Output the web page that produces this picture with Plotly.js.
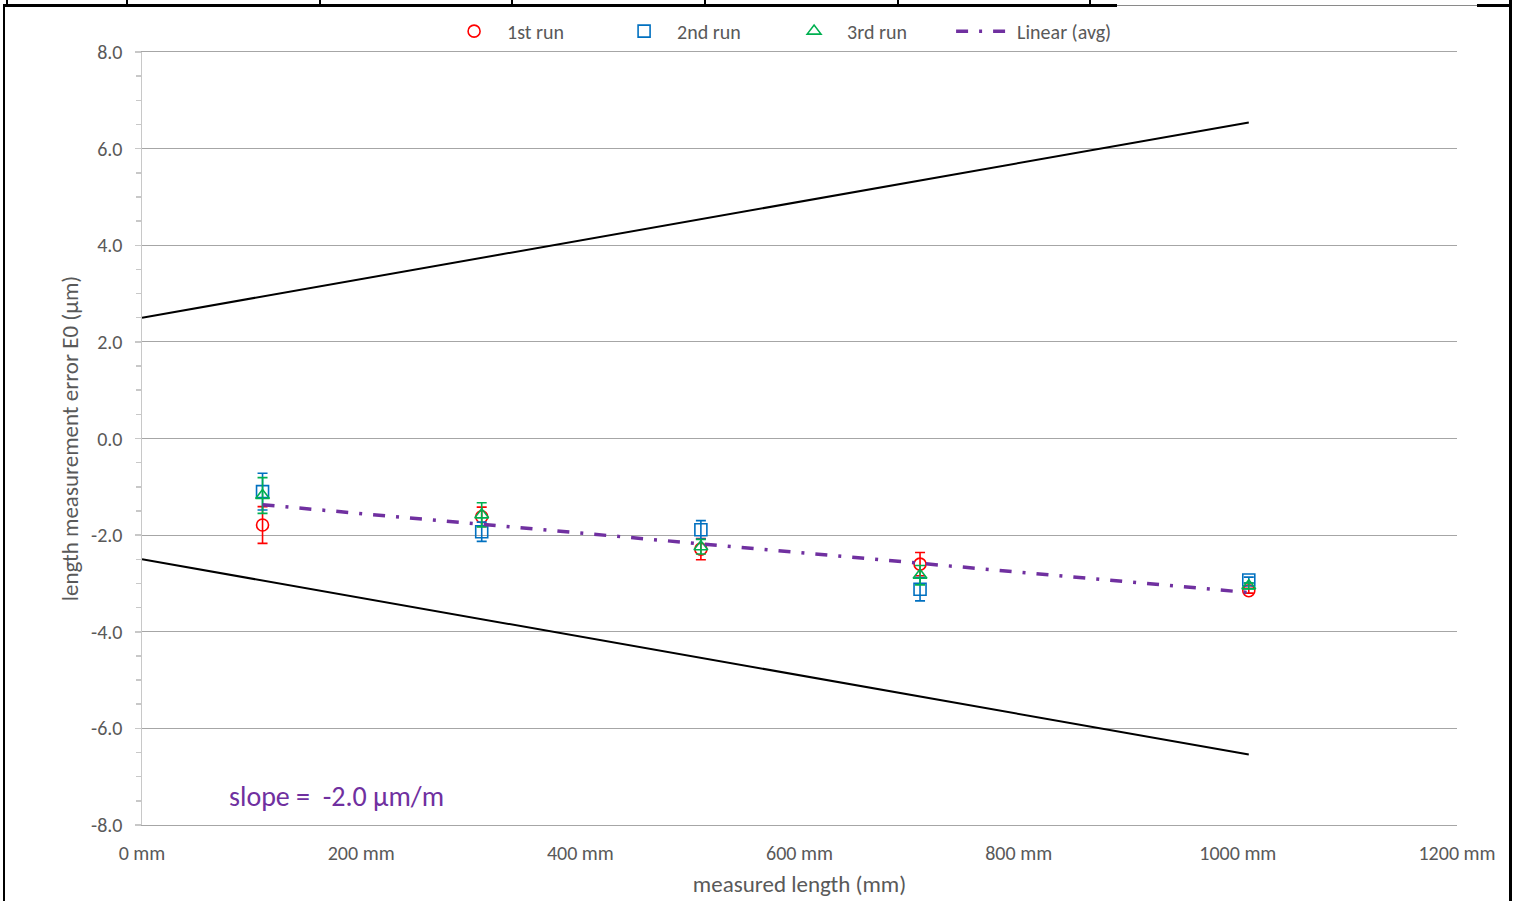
<!DOCTYPE html>
<html>
<head>
<meta charset="utf-8">
<script src="https://cdn.plot.ly/plotly-3.0.1.min.js"></script>
<style>
  html, body { margin:0; padding:0; background:#fff; }
  #chart { width:1519px; height:901px; position:absolute; left:0; top:0; }
  .ln { position:absolute; background:#000; }
</style>
</head>
<body>
<div id="chart"></div>
<script>
// ---- data ----
const lengthsMm = [110, 310, 510, 710, 1010];

const run1 = [-1.79, -1.62, -2.29, -2.60, -3.15];
const run1Err = [0.38, 0.20, 0.22, 0.24, 0.05];

const run2 = [-1.10, -1.93, -1.89, -3.12, -2.93];
const run2Err = [0.38, 0.20, 0.19, 0.24, 0.06];

const run3 = [-1.18, -1.58, -2.24, -2.83, -3.05];
const run3Err = [0.37, 0.25, 0.15, 0.20, 0.06];

// MPE limit lines (end points)
const mpeX = [0, 1010];
const mpeUpper = [2.5, 6.54];
const mpeLower = [-2.5, -6.54];

const yTickVals = [-8, -6, -4, -2, 0, 2, 4, 6, 8];
const yTickText = ['-8.0', '-6.0', '-4.0', '-2.0', '0.0', '2.0', '4.0', '6.0', '8.0'];
const xTickVals = [0, 200, 400, 600, 800, 1000, 1200];
const xTickText = ['0 mm', '200 mm', '400 mm', '600 mm', '800 mm', '1000 mm', '1200 mm'];

const seriesNames = ['1st run', '2nd run', '3rd run', 'Linear (avg)'];
const slopeLabel = 'slope =  -2.0 µm/m';

// ---- linear trend of the run averages (least squares) ----
const avg = lengthsMm.map((_, i) => (run1[i] + run2[i] + run3[i]) / 3);
const n = lengthsMm.length;
const mx = lengthsMm.reduce((a, b) => a + b, 0) / n;
const my = avg.reduce((a, b) => a + b, 0) / n;
let sxy = 0, sxx = 0;
for (let i = 0; i < n; i++) { sxy += (lengthsMm[i] - mx) * (avg[i] - my); sxx += (lengthsMm[i] - mx) ** 2; }
const k = sxy / sxx;
const trendX = [lengthsMm[0], lengthsMm[n - 1]];
const trendY = trendX.map(x => my + k * (x - mx));

const FONT = 'Carlito, Lato, "Liberation Sans", sans-serif';
const GRAY = '#595959';

function runTrace(name, y, err, color, symbol) {
  return {
    type: 'scatter', mode: 'markers', name: name,
    x: lengthsMm, y: y,
    marker: { symbol: symbol, size: 12, color: color, line: { color: color, width: 1.6 } },
    error_y: { type: 'data', array: err, visible: true, color: color, thickness: 1.6, width: 5 }
  };
}

const traces = [
  { type: 'scatter', mode: 'lines', x: mpeX, y: mpeUpper, showlegend: false, hoverinfo: 'skip',
    line: { color: '#000', width: 2 } },
  { type: 'scatter', mode: 'lines', x: mpeX, y: mpeLower, showlegend: false, hoverinfo: 'skip',
    line: { color: '#000', width: 2 } },
  runTrace(seriesNames[0], run1, run1Err, '#FF0000', 'circle-open'),
  runTrace(seriesNames[1], run2, run2Err, '#0070C0', 'square-open'),
  runTrace(seriesNames[2], run3, run3Err, '#00B050', 'triangle-up-open'),
  { type: 'scatter', mode: 'lines', name: seriesNames[3], x: trendX, y: trendY,
    line: { color: '#7030A0', width: 3.5, dash: '12px,11px,3px,11px' } }
];

const layout = {
  width: 1519, height: 901,
  margin: { l: 142, r: 62, t: 52, b: 76 },
  paper_bgcolor: 'rgba(0,0,0,0)', plot_bgcolor: '#fff',
  font: { family: FONT, color: GRAY, size: 20 },
  showlegend: true,
  legend: {
    orientation: 'h', x: 0.486, xanchor: 'center', y: 1.027, yanchor: 'middle',
    font: { family: FONT, size: 20, color: GRAY }, itemwidth: 56, entrywidth: 99, tracegroupgap: 0,
    bgcolor: 'rgba(0,0,0,0)'
  },
  xaxis: {
    range: [0, 1200], tickvals: xTickVals, ticktext: xTickText,
    showgrid: false, zeroline: false, ticks: '',
    showline: true, mirror: true, linecolor: '#A6A6A6', linewidth: 1,
    tickfont: { family: FONT, size: 20, color: GRAY }, ticklabelstandoff: 10,
    title: { text: 'measured length (mm)', font: { family: FONT, size: 23, color: GRAY }, standoff: 11 }
  },
  yaxis: {
    range: [-8, 8], tickvals: yTickVals, ticktext: yTickText,
    showgrid: true, gridcolor: '#A6A6A6', gridwidth: 1, zeroline: false,
    showline: true, linecolor: '#C8C8C8', linewidth: 1.5,
    ticks: 'outside', ticklen: 6, tickcolor: '#C8C8C8', tickwidth: 1.5,
    minor: { dtick: 0.5, ticks: 'outside', ticklen: 5, tickcolor: '#C8C8C8', tickwidth: 1.5, showgrid: false },
    tickfont: { family: FONT, size: 20, color: GRAY }, ticklabelstandoff: 8,
    title: { text: 'length measurement error E0 (µm)', font: { family: FONT, size: 23, color: GRAY }, standoff: 6 }
  },
  annotations: [
    { x: 78, y: -7.4, xref: 'x', yref: 'y', xanchor: 'left', yanchor: 'middle', showarrow: false,
      text: slopeLabel, font: { family: FONT, size: 28, color: '#7030A0' } }
  ]
};

Plotly.newPlot('chart', traces, layout, { displayModeBar: false, staticPlot: true });

// ---- surrounding frame (decorative borders of the page) ----
const frame = [
  [3, 5, 2, 896],       // left border
  [1509, 0, 3, 901],    // right border
  [3, 4, 1114, 3],      // top thick line (left part)
  [1117, 5, 360, 1],    // top thin line
  [1477, 4, 35, 3],     // top thick line (right part)
  [6, 0, 2, 5], [126, 0, 2, 5], [319, 0, 2, 5], [511, 0, 2, 5],
  [704, 0, 2, 5], [897, 0, 2, 5], [1089, 0, 2, 5]
];
frame.forEach(([l, t, w, h], i) => {
  const d = document.createElement('div');
  d.className = 'ln';
  d.style.left = l + 'px'; d.style.top = t + 'px'; d.style.width = w + 'px'; d.style.height = h + 'px';
  if (i === 3) d.style.background = '#8a8a8a';
  document.body.appendChild(d);
});
</script>
</body>
</html>
